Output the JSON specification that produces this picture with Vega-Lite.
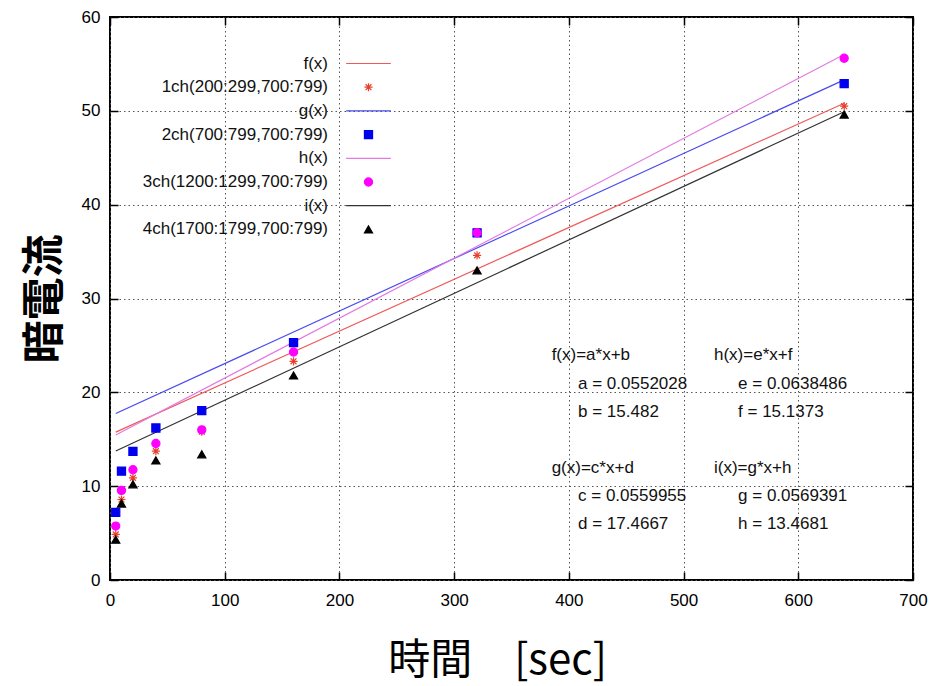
{
  "$schema": "https://vega.github.io/schema/vega-lite/v6.json",
  "width": 803,
  "height": 563,
  "autosize": "none",
  "padding": {"left": 110, "top": 17, "right": 37, "bottom": 106},
  "background": "white",
  "config": {
    "view": {"stroke": "black", "strokeWidth": 2},
    "font": "Liberation Sans",
    "text": {"font": "Liberation Sans", "fontSize": 17, "color": "#111", "align": "left", "baseline": "alphabetic", "lineHeight": 28.2}
  },
  "datasets": {
    "fits": [
      {"series": "f(x)", "t": 5, "v": 15.758},
      {"series": "f(x)", "t": 640, "v": 50.812},
      {"series": "g(x)", "t": 5, "v": 17.747},
      {"series": "g(x)", "t": 640, "v": 53.304},
      {"series": "h(x)", "t": 5, "v": 15.457},
      {"series": "h(x)", "t": 640, "v": 56.0},
      {"series": "i(x)", "t": 5, "v": 13.753},
      {"series": "i(x)", "t": 640, "v": 49.909}
    ],
    "points": [
      {"series": "1ch(200:299,700:799)", "t": 5, "v": 4.86},
      {"series": "1ch(200:299,700:799)", "t": 10, "v": 8.58},
      {"series": "1ch(200:299,700:799)", "t": 20, "v": 10.89},
      {"series": "1ch(200:299,700:799)", "t": 40, "v": 13.73},
      {"series": "1ch(200:299,700:799)", "t": 80, "v": 15.8},
      {"series": "1ch(200:299,700:799)", "t": 160, "v": 23.3},
      {"series": "1ch(200:299,700:799)", "t": 320, "v": 34.6},
      {"series": "1ch(200:299,700:799)", "t": 640, "v": 50.5},
      {"series": "2ch(700:799,700:799)", "t": 5, "v": 7.2},
      {"series": "2ch(700:799,700:799)", "t": 10, "v": 11.6},
      {"series": "2ch(700:799,700:799)", "t": 20, "v": 13.7},
      {"series": "2ch(700:799,700:799)", "t": 40, "v": 16.2},
      {"series": "2ch(700:799,700:799)", "t": 80, "v": 18.05},
      {"series": "2ch(700:799,700:799)", "t": 160, "v": 25.3},
      {"series": "2ch(700:799,700:799)", "t": 320, "v": 37.0},
      {"series": "2ch(700:799,700:799)", "t": 640, "v": 52.9},
      {"series": "3ch(1200:1299,700:799)", "t": 5, "v": 5.75},
      {"series": "3ch(1200:1299,700:799)", "t": 10, "v": 9.55},
      {"series": "3ch(1200:1299,700:799)", "t": 20, "v": 11.75},
      {"series": "3ch(1200:1299,700:799)", "t": 40, "v": 14.55},
      {"series": "3ch(1200:1299,700:799)", "t": 80, "v": 16.0},
      {"series": "3ch(1200:1299,700:799)", "t": 160, "v": 24.3},
      {"series": "3ch(1200:1299,700:799)", "t": 320, "v": 37.0},
      {"series": "3ch(1200:1299,700:799)", "t": 640, "v": 55.6},
      {"series": "4ch(1700:1799,700:799)", "t": 5, "v": 4.3},
      {"series": "4ch(1700:1799,700:799)", "t": 10, "v": 8.15},
      {"series": "4ch(1700:1799,700:799)", "t": 20, "v": 10.2},
      {"series": "4ch(1700:1799,700:799)", "t": 40, "v": 12.75},
      {"series": "4ch(1700:1799,700:799)", "t": 80, "v": 13.4},
      {"series": "4ch(1700:1799,700:799)", "t": 160, "v": 21.8},
      {"series": "4ch(1700:1799,700:799)", "t": 320, "v": 33.0},
      {"series": "4ch(1700:1799,700:799)", "t": 640, "v": 49.6}
    ]
  },
  "resolve": {"axis": {"x": "independent", "y": "independent"}},
  "layer": [
    {
      "data": {"name": "fits"},
      "mark": {"type": "line", "strokeWidth": 1.2, "clip": true},
      "encoding": {
        "x": {
          "field": "t", "type": "quantitative",
          "scale": {"domain": [0, 700], "nice": false, "zero": false},
          "axis": {"orient": "top", "labels": false, "grid": false, "domain": false, "ticks": true, "tickSize": -8, "tickColor": "black", "tickWidth": 1.5, "values": [0, 100, 200, 300, 400, 500, 600, 700], "title": null}
        },
        "y": {
          "field": "v", "type": "quantitative",
          "scale": {"domain": [0, 60], "nice": false, "zero": false},
          "axis": {"orient": "right", "labels": false, "grid": false, "domain": false, "ticks": true, "tickSize": -8, "tickColor": "black", "tickWidth": 1.5, "values": [0, 10, 20, 30, 40, 50, 60], "title": null}
        },
        "color": {
          "field": "series", "type": "nominal",
          "scale": {
            "domain": ["f(x)", "1ch(200:299,700:799)", "g(x)", "2ch(700:799,700:799)", "h(x)", "3ch(1200:1299,700:799)", "i(x)", "4ch(1700:1799,700:799)"],
            "range": ["#ee5a5a", "#e8402a", "#4a4af0", "#0000ee", "#e27ae2", "#ff00ff", "#333333", "#000000"]
          }
        }
      }
    },
    {
      "data": {"name": "points"},
      "mark": {"type": "point", "filled": true, "opacity": 1, "strokeWidth": 1.2, "size": 66},
      "encoding": {
        "x": {
          "field": "t", "type": "quantitative",
          "scale": {"domain": [0, 700], "nice": false, "zero": false},
          "axis": {"orient": "bottom", "values": [0, 100, 200, 300, 400, 500, 600, 700], "grid": true, "gridColor": "#555", "gridDash": [1.5, 3], "gridWidth": 1, "domain": false, "tickSize": -8, "tickColor": "black", "tickWidth": 1.5, "labelFontSize": 17, "labelColor": "black", "labelFont": "Liberation Sans", "labelPadding": 20, "labelFlush": false, "labelOverlap": false, "title": "時間\u3000[sec]", "titleFont": "Noto Sans CJK JP", "titleFontSize": 42, "titleFontWeight": "normal", "titleColor": "black", "titlePadding": 32, "titleX": 387}
        },
        "y": {
          "field": "v", "type": "quantitative",
          "scale": {"domain": [0, 60], "nice": false, "zero": false},
          "axis": {"orient": "left", "values": [0, 10, 20, 30, 40, 50, 60], "grid": true, "gridColor": "#555", "gridDash": [1.5, 3], "gridWidth": 1, "domain": false, "tickSize": -8, "tickColor": "black", "tickWidth": 1.5, "labelFontSize": 17, "labelColor": "black", "labelFont": "Liberation Sans", "labelPadding": 18, "labelFlush": false, "labelOverlap": false, "title": "暗電流", "titleFont": "Noto Sans CJK JP", "titleFontSize": 43, "titleFontWeight": "bold", "titleColor": "black", "titlePadding": 14}
        },
        "color": {
          "field": "series", "type": "nominal",
          "scale": {
            "domain": ["f(x)", "1ch(200:299,700:799)", "g(x)", "2ch(700:799,700:799)", "h(x)", "3ch(1200:1299,700:799)", "i(x)", "4ch(1700:1799,700:799)"],
            "range": ["#ee5a5a", "#e8402a", "#4a4af0", "#0000ee", "#e27ae2", "#ff00ff", "#333333", "#000000"]
          },
          "legend": {
            "title": null,
            "orient": "none",
            "legendX": 250,
            "legendY": 38,
            "padding": 0,
            "rowPadding": 5.7,
            "symbolOffset": 0,
            "symbolSize": 66,
            "labelAlign": "right",
            "labelOffset": -49,
            "labelLimit": 400,
            "labelFont": "Liberation Sans",
            "labelFontSize": 17,
            "labelColor": "#111",
            "symbolStrokeWidth": 1.2,
            "encode": {
              "symbols": {
                "update": {
                  "stroke": {"scale": "color", "field": "value"},
                  "strokeWidth": {"value": 1.2},
                  "opacity": {"value": 1}
                }
              }
            }
          }
        },
        "stroke": {
          "field": "series", "type": "nominal",
          "scale": {
            "domain": ["f(x)", "1ch(200:299,700:799)", "g(x)", "2ch(700:799,700:799)", "h(x)", "3ch(1200:1299,700:799)", "i(x)", "4ch(1700:1799,700:799)"],
            "range": ["#ee5a5a", "#e8402a", "#4a4af0", "#0000ee", "#e27ae2", "#ff00ff", "#333333", "#000000"]
          },
          "legend": null
        },
        "shape": {
          "field": "series", "type": "nominal",
          "scale": {
            "domain": ["f(x)", "1ch(200:299,700:799)", "g(x)", "2ch(700:799,700:799)", "h(x)", "3ch(1200:1299,700:799)", "i(x)", "4ch(1700:1799,700:799)"],
            "range": ["M-5.5,0H5.5", "M-1,0H1M0,-1V1M-0.72,-0.72L0.72,0.72M-0.72,0.72L0.72,-0.72", "M-5.5,0H5.5", "square", "M-5.5,0H5.5", "circle", "M-5.5,0H5.5", "triangle-up"]
          }
        }
      }
    },
    {
      "data": {"values": [{}]},
      "mark": {"type": "text"},
      "encoding": {
        "x": {"datum": 385, "type": "quantitative", "axis": null},
        "y": {"datum": 23.4, "type": "quantitative", "axis": null},
        "text": {"value": "f(x)=a*x+b"}
      }
    },
    {
      "data": {"values": [{}]},
      "mark": {"type": "text"},
      "encoding": {
        "x": {"datum": 408, "type": "quantitative", "axis": null},
        "y": {"datum": 20.4, "type": "quantitative", "axis": null},
        "text": {"value": ["a = 0.0552028", "b = 15.482"]}
      }
    },
    {
      "data": {"values": [{}]},
      "mark": {"type": "text"},
      "encoding": {
        "x": {"datum": 385, "type": "quantitative", "axis": null},
        "y": {"datum": 11.39, "type": "quantitative", "axis": null},
        "text": {"value": "g(x)=c*x+d"}
      }
    },
    {
      "data": {"values": [{}]},
      "mark": {"type": "text"},
      "encoding": {
        "x": {"datum": 408, "type": "quantitative", "axis": null},
        "y": {"datum": 8.39, "type": "quantitative", "axis": null},
        "text": {"value": ["c = 0.0559955", "d = 17.4667"]}
      }
    },
    {
      "data": {"values": [{}]},
      "mark": {"type": "text"},
      "encoding": {
        "x": {"datum": 526.5, "type": "quantitative", "axis": null},
        "y": {"datum": 23.4, "type": "quantitative", "axis": null},
        "text": {"value": "h(x)=e*x+f"}
      }
    },
    {
      "data": {"values": [{}]},
      "mark": {"type": "text"},
      "encoding": {
        "x": {"datum": 547.5, "type": "quantitative", "axis": null},
        "y": {"datum": 20.4, "type": "quantitative", "axis": null},
        "text": {"value": ["e = 0.0638486", "f = 15.1373"]}
      }
    },
    {
      "data": {"values": [{}]},
      "mark": {"type": "text"},
      "encoding": {
        "x": {"datum": 526.5, "type": "quantitative", "axis": null},
        "y": {"datum": 11.39, "type": "quantitative", "axis": null},
        "text": {"value": "i(x)=g*x+h"}
      }
    },
    {
      "data": {"values": [{}]},
      "mark": {"type": "text"},
      "encoding": {
        "x": {"datum": 547.5, "type": "quantitative", "axis": null},
        "y": {"datum": 8.39, "type": "quantitative", "axis": null},
        "text": {"value": ["g = 0.0569391", "h = 13.4681"]}
      }
    }
  ]
}
